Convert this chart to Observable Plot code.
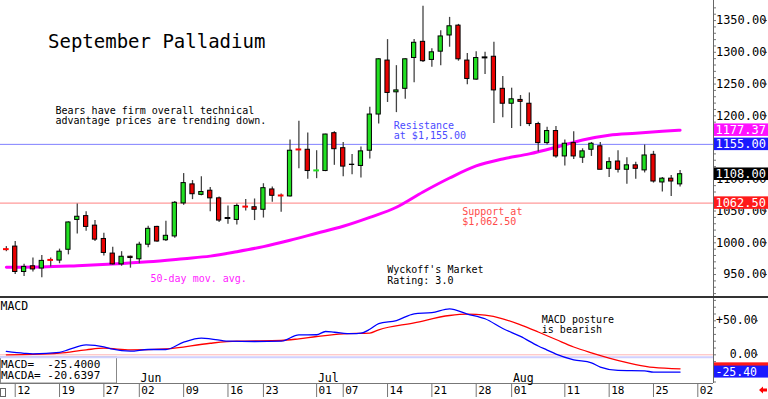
<!DOCTYPE html>
<html><head><meta charset="utf-8">
<script src="https://cdn.jsdelivr.net/npm/d3@7"></script>
<script src="https://cdn.jsdelivr.net/npm/@observablehq/plot@0.6"></script>
<style>
html,body{margin:0;padding:0;background:#fff;}
#chart{position:relative;width:768px;height:399px;overflow:hidden;background:#fff;}
#price{position:absolute;left:0;top:0;}
#sep{position:absolute;left:0;top:296px;width:768px;height:2px;background:#333;}
#macd{position:absolute;left:0;top:298px;}
svg{display:block;}
</style></head>
<body><div id="chart"><div id="price"></div><div id="sep"></div><div id="macd"></div></div>
<script>
// ---- data (trading-day index, first candle = -1) ----
const firstDay = -1;
const opens  = [990.3,994,954,963,959.5,973.3,972,989,1036,1042,1027,1006,983,966,978,974,997,1025,1004,1010,
  1062,1092,1075.5,1082,1070,1039,1036,1057.3,1056,1052,1084,1074.8,1073,1147.3,1146.5,1113.7,1113,1172.6,1149,1122.5,
  1121,1145,1202,1287,1237,1242.5,1291,1316.5,1288,1301,1326.5,1342,1287,1257,1292,1293,1242.5,1219,1225,1219,
  1187,1157,1176,1136,1157,1134,1146.5,1152,1116.5,1128,1115,1122,1114,1138.6,1095,1101,1092];
const highs  = [994,1002,966,976,980,976,990,1033,1061,1049,1035,1015,993,986,979,1001,1026,1026,1034,1065,
  1109,1098,1104,1087,1072,1058,1061,1068,1069,1093,1088,1077,1162,1191.5,1173,1145,1171,1175,1158,1139,
  1151,1213.5,1290,1320,1279,1290,1320,1372.6,1305.5,1334,1355,1344,1298,1301,1300,1316,1262,1243.5,1232,1236,
  1190,1182,1183,1162,1175,1148,1158,1158,1134,1145,1134,1127,1154,1144,1103,1106,1114];
const lows   = [986,950,947,954,945,962,967,981,1014,1018,1002,979,965,963,960,967,992,1001,1002,1007,
  1059,1068,1074,1049,1032,1029,1028,1050,1035,1039,1064,1048,1072,1116.5,1100,1101,1112,1122,1104,1107,
  1102,1132,1187,1221,1205,1226,1252,1284,1276.5,1279,1308,1286,1249,1256,1265,1188,1197,1180,1183,1183,
  1143,1154,1133,1121,1131,1125,1136,1115,1103,1110,1092,1100,1110,1094,1080,1073,1088];
const closes = [990,954,962,958,971.5,973,986,1032,1041,1025,1005,984,966,978,976,997,1022,1002,1011,1063,
  1094,1076.5,1080,1070,1035,1039,1058,1057,1052,1086,1074,1074.5,1145,1147,1113,1114,1170.5,1147.4,1120,1123,
  1144,1202,1289,1236,1240,1289,1315,1286,1300,1325,1341,1289,1258,1291,1292,1240,1219,1226,1222,1187,
  1157,1176,1136,1156,1136,1144,1156,1115,1127,1115,1122,1116.5,1137.5,1096.5,1101,1096.5,1108];

const maDays   = [-1,3,7,11,15,19,22,25,28,31,34,37,40,43,46,49,52,55,58,61,64,67,70,73,75];
const maValues = [961.5,962,964,966.5,970,975,979,986,994,1004,1015,1026,1040,1056,1080,1102,1121,1132,1140,1150.5,1162,1169.5,1172.6,1175.5,1177.37];

const macdDays   = [-1,1,2,5,6,8,10,11,13,15,17,19,21,22,24,27,30,32,34,35,36,38,39,40,41,43,45,47,49,51,53,55,57,59,60,61,63,65,66,68,71,72,75];
const macdValues = [4.9,2.2,1.5,3.6,7.5,14.5,11.8,8.2,5.3,7.8,7.8,18.5,24.4,23.5,20,19.6,20,29.4,29.5,34.3,33.2,31,31.8,37.5,46,50.4,60.3,62,67.6,60,53,38.7,27,13,7,1,-7.3,-11.8,-18.2,-23,-23.5,-25.6,-25.4];
const signalDays   = [-1,2,5,8,10,13,17,22,25,30,32,34,37,40,41,45,49,51,53,55,57,59,61,63,65,67,70,72,75];
const signalValues = [0,0.5,2.4,7.3,9.7,7.3,8.7,17,20,21,23.5,26.9,30.9,32,36.8,47,57.8,59.7,58.2,52.9,44,33.5,22.5,11.5,2.9,-4.8,-14.3,-18.5,-20.6397];

const tickDays   = [0,5,10,14,19,24,28,34,37,42,47,52,56,62,67,72,77];
const tickLabels = ["12","19","27","02","09","16","23","01","07","14","21","28","01","11","18","25","02"];
const monthDays   = [14,34,56];
const monthLabels = ["Jun","Jul","Aug"];
const priceTicks = [950,1000,1050,1100,1150,1200,1250,1300,1350];
const priceTickLabels = ["950.00","1000.00","1050.00","1100.00","","1200.00","1250.00","1300.00","1350.00"]; // 1150 hidden under the resistance box
const macdTicks  = [0,50];
const macdTickLabels = ["0.00","+50.00"];

const resistance = 1155, support = 1062.5, lastClose = 1108, lastMA = 1177.37;
const lastMACD = -25.4, lastMACDA = -20.6397;

// ---- layout ----
const W = 768, AX = 713;
const FONT = "'DejaVu Sans Mono', monospace";
const xDomain = [-1.66, 78.77];
const priceDomain = [915.4, 1381.6];
const macdDomain = [-42.2, 82.8];

const candles = opens.map((o, k) => ({day: firstDay + k, open: o, high: highs[k], low: lows[k], close: closes[k]}));
const bodies = candles.filter(d => Math.abs(d.close - d.open) >= 0.5);
const dojis = candles.filter(d => Math.abs(d.close - d.open) < 0.5);
const ma = maDays.map((d, k) => ({day: d, v: maValues[k]}));
const macdLine = macdDays.map((d, k) => ({day: d, v: macdValues[k]}));
const sigLine = signalDays.map((d, k) => ({day: d, v: signalValues[k]}));

const price = Plot.plot({
  width: W, height: 296, marginLeft: 0, marginRight: W - AX, marginTop: 0, marginBottom: 0,
  x: {domain: xDomain, axis: null, label: null},
  y: {domain: priceDomain, axis: null, label: null},
  color: {type: "identity"},
  style: {fontFamily: FONT, background: "transparent", overflow: "visible", color: "#000"},
  marks: [
    Plot.ruleY([resistance], {stroke: "#8080ff"}),
    Plot.ruleY([support], {stroke: "#ff8080"}),
    Plot.line(ma, {x: "day", y: "v", stroke: "#ff00ff", strokeWidth: 3, curve: "monotone-x"}),
    Plot.ruleX(candles, {x: "day", y1: "low", y2: "high", stroke: "#444", strokeWidth: 1.3}),
    Plot.rect(bodies, {x1: d => d.day - 0.24, x2: d => d.day + 0.24, y1: "open", y2: "close",
      fill: d => d.close > d.open ? "#22e022" : "#e80000", stroke: "#000", strokeWidth: 1}),
    Plot.ruleY(dojis, {y: "close", x1: d => d.day - 0.32, x2: d => d.day + 0.32, strokeWidth: 2,
      stroke: d => d.close > d.open ? "#22e022" : d.close < d.open ? "#ff0000" : "#000"}),
    Plot.ruleX([xDomain[1]], {stroke: "#666"}),
    Plot.axisY(d3.range(920, 1380, 10), {anchor: "right", label: null, tickSize: 2, tickFormat: () => "", stroke: "#777"}),
    Plot.axisY(priceTicks, {anchor: "right", label: null, tickSize: 4, tickPadding: 0,
      tickFormat: d => priceTickLabels[priceTicks.indexOf(d)],
      textAnchor: "end", dx: 49, fontSize: 12, stroke: "#555"}),
    Plot.text(["September Palladium"], {frameAnchor: "top-left", dx: 47.5, dy: 33.5, lineAnchor: "top", textAnchor: "start", fontSize: 19}),
    Plot.text(["Bears have firm overall technical\nadvantage prices are trending down."],
      {frameAnchor: "top-left", dx: 55, dy: 106, lineAnchor: "top", textAnchor: "start", fontSize: 10, lineHeight: 1.03}),
    Plot.text(["Resistance\nat $1,155.00"], {frameAnchor: "top-left", dx: 393.3, dy: 121.7, lineAnchor: "top", textAnchor: "start", fontSize: 10, lineHeight: 1.0, fill: "#4b4bff"}),
    Plot.text(["Support at\n$1,062.50"], {frameAnchor: "top-left", dx: 461.7, dy: 207.3, lineAnchor: "top", textAnchor: "start", fontSize: 10, lineHeight: 1.0, fill: "#ff4b4b"}),
    Plot.text(["50-day mov. avg."], {frameAnchor: "top-left", dx: 150, dy: 274.3, lineAnchor: "top", textAnchor: "start", fontSize: 10, fill: "#ff22ff"}),
    Plot.text(["Wyckoff's Market\nRating: 3.0"], {frameAnchor: "top-left", dx: 386.7, dy: 265.3, lineAnchor: "top", textAnchor: "start", fontSize: 10, lineHeight: 1.07})
  ]
});
document.getElementById("price").appendChild(price);

const macd = Plot.plot({
  width: W, height: 101, marginLeft: 0, marginRight: W - AX, marginTop: 0, marginBottom: 16,
  x: {domain: xDomain, axis: null, label: null},
  y: {domain: macdDomain, axis: null, label: null},
  style: {fontFamily: FONT, background: "transparent", overflow: "visible", color: "#000"},
  marks: [
    Plot.ruleY([0], {stroke: "#ffb4b4"}),
    Plot.ruleY([0], {stroke: "#d0d0ff", strokeWidth: 2, dy: 2.5}),
    Plot.line(sigLine, {x: "day", y: "v", stroke: "#ff0000", strokeWidth: 1.3, curve: "monotone-x"}),
    Plot.line(macdLine, {x: "day", y: "v", stroke: "#0000ff", strokeWidth: 1.3, curve: "monotone-x"}),
    Plot.ruleX([xDomain[1]], {stroke: "#666"}),
    Plot.ruleY([macdDomain[0]], {stroke: "#777"}),
    Plot.axisY(d3.range(-40, 81, 10), {anchor: "right", label: null, tickSize: 2, tickFormat: () => "", stroke: "#777"}),
    Plot.axisY(macdTicks, {anchor: "right", label: null, tickSize: 3, tickPadding: 0,
      tickFormat: d => macdTickLabels[macdTicks.indexOf(d)],
      textAnchor: "end", dx: 41, fontSize: 11.5, stroke: "#555"}),
    Plot.axisX(tickDays, {anchor: "bottom", label: null, tickSize: 14, tickFormat: () => "", stroke: "#777"}),
    Plot.axisX(tickDays, {anchor: "bottom", label: null, tickSize: 0, tickPadding: 2.7, tickFormat: d => tickLabels[tickDays.indexOf(d)],
      textAnchor: "start", dx: 2, fontSize: 11}),
    Plot.text(monthLabels, {x: (d, i) => monthDays[i], frameAnchor: "bottom", lineAnchor: "top", textAnchor: "start", dx: 1.3, dy: -9.7, fontSize: 11.5}),
    Plot.text(["MACD"], {frameAnchor: "top-left", dx: 0, dy: 3.7, lineAnchor: "top", textAnchor: "start", fontSize: 11.5}),
    Plot.text(["MACD posture\nis bearish"], {frameAnchor: "top-left", dx: 541.3, dy: 17, lineAnchor: "top", textAnchor: "start", fontSize: 10, lineHeight: 1.0}),
    Plot.text([`MACD=  ${lastMACD.toFixed(4)}\nMACDA= ${lastMACDA.toFixed(4)}`], {frameAnchor: "top-left", dx: 0.5, dy: 61.3, lineAnchor: "top", textAnchor: "start", fontSize: 11, lineHeight: 1.04})
  ]
});
document.getElementById("macd").appendChild(macd);

// value boxes on the right axes, placed with the plots' own y scales
function addBoxes(svg, yScale, boxes, textRight, fontSize, h) {
  const g = d3.select(svg).append("g").attr("font-family", FONT).attr("font-size", fontSize);
  for (const b of boxes) {
    const y = yScale.apply(b.value);
    g.append("rect").attr("x", AX + 1).attr("y", y - h / 2).attr("width", W - AX - 1).attr("height", h).attr("fill", b.color);
    if (b.label) g.append("text").attr("x", textRight).attr("y", y).attr("dy", "0.36em").attr("text-anchor", "end").attr("fill", "#fff").text(b.label);
  }
}
addBoxes(price, price.scale("y"), [
  {value: lastMA, label: lastMA.toFixed(2), color: "#ff10ff"},
  {value: resistance, label: resistance.toFixed(2), color: "#1a1aff"},
  {value: lastClose, label: lastClose.toFixed(2), color: "#000"},
  {value: support, label: support.toFixed(2), color: "#ff1a1a"}
], 766, 12, 12.5);
// MACDA box sits behind the MACD box, its label hidden as in the original
addBoxes(macd, macd.scale("y"), [
  {value: lastMACDA, label: "", color: "#ff1a1a"},
  {value: lastMACD, label: lastMACD.toFixed(2), color: "#1a1aff"}
], 757, 11.5, 12);

// legend box, checkbox and scroll arrow decorations
const ms = d3.select(macd);
ms.insert("rect", ":first-child").attr("x", 0.5).attr("y", 59).attr("width", 116).attr("height", 26)
  .attr("fill", "#fff").attr("stroke", "#888");
ms.append("rect").attr("x", 0.5).attr("y", 90.5).attr("width", 5).attr("height", 8).attr("fill", "none").attr("stroke", "#666");
ms.append("path").attr("d", "M759,92 L763,88.5 L763,90.5 L767,90.5 L767,93.5 L763,93.5 L763,95.5 Z").attr("fill", "#ff0000");
</script></body></html>
